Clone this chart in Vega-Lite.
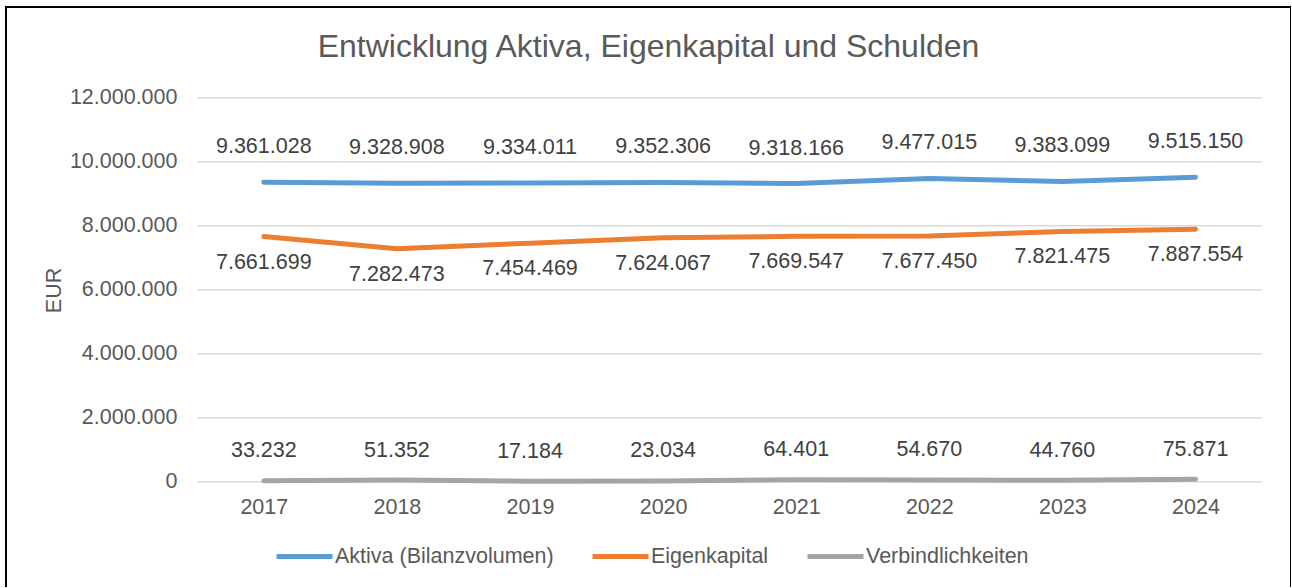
{
  "$schema": "https://vega.github.io/schema/vega-lite/v6.json",
  "width": 1285,
  "height": 584,
  "autosize": {"type": "none"},
  "padding": {"left": 6, "top": 7, "right": 0, "bottom": -4},
  "background": "white",
  "config": {
    "font": "Liberation Sans",
    "view": {"stroke": "#000000", "strokeWidth": 2},
    "locale": {"number": {"decimal": ",", "thousands": ".", "grouping": [3], "currency": ["", " €"]}}
  },
  "title": {
    "text": "Entwicklung Aktiva, Eigenkapital und Schulden",
    "fontSize": 32,
    "fontWeight": "normal",
    "color": "#595959",
    "anchor": "middle",
    "frame": "group",
    "baseline": "alphabetic",
    "offset": -81.6
  },
  "datasets": {
    "werte": [
      {"Jahr": 2017, "Reihe": "Aktiva (Bilanzvolumen)", "Wert": 9361028},
      {"Jahr": 2018, "Reihe": "Aktiva (Bilanzvolumen)", "Wert": 9328908},
      {"Jahr": 2019, "Reihe": "Aktiva (Bilanzvolumen)", "Wert": 9334011},
      {"Jahr": 2020, "Reihe": "Aktiva (Bilanzvolumen)", "Wert": 9352306},
      {"Jahr": 2021, "Reihe": "Aktiva (Bilanzvolumen)", "Wert": 9318166},
      {"Jahr": 2022, "Reihe": "Aktiva (Bilanzvolumen)", "Wert": 9477015},
      {"Jahr": 2023, "Reihe": "Aktiva (Bilanzvolumen)", "Wert": 9383099},
      {"Jahr": 2024, "Reihe": "Aktiva (Bilanzvolumen)", "Wert": 9515150},
      {"Jahr": 2017, "Reihe": "Eigenkapital", "Wert": 7661699},
      {"Jahr": 2018, "Reihe": "Eigenkapital", "Wert": 7282473},
      {"Jahr": 2019, "Reihe": "Eigenkapital", "Wert": 7454469},
      {"Jahr": 2020, "Reihe": "Eigenkapital", "Wert": 7624067},
      {"Jahr": 2021, "Reihe": "Eigenkapital", "Wert": 7669547},
      {"Jahr": 2022, "Reihe": "Eigenkapital", "Wert": 7677450},
      {"Jahr": 2023, "Reihe": "Eigenkapital", "Wert": 7821475},
      {"Jahr": 2024, "Reihe": "Eigenkapital", "Wert": 7887554},
      {"Jahr": 2017, "Reihe": "Verbindlichkeiten", "Wert": 33232},
      {"Jahr": 2018, "Reihe": "Verbindlichkeiten", "Wert": 51352},
      {"Jahr": 2019, "Reihe": "Verbindlichkeiten", "Wert": 17184},
      {"Jahr": 2020, "Reihe": "Verbindlichkeiten", "Wert": 23034},
      {"Jahr": 2021, "Reihe": "Verbindlichkeiten", "Wert": 64401},
      {"Jahr": 2022, "Reihe": "Verbindlichkeiten", "Wert": 54670},
      {"Jahr": 2023, "Reihe": "Verbindlichkeiten", "Wert": 44760},
      {"Jahr": 2024, "Reihe": "Verbindlichkeiten", "Wert": 75871}
    ],
    "gitter": [
      {"Gitter": 0}, {"Gitter": 2000000}, {"Gitter": 4000000}, {"Gitter": 6000000},
      {"Gitter": 8000000}, {"Gitter": 10000000}, {"Gitter": 12000000}
    ]
  },
  "layer": [
    {
      "data": {"name": "gitter"},
      "mark": {"type": "rule", "color": "#D9D9D9", "strokeWidth": 1.5},
      "encoding": {
        "x": {"datum": 2016.5, "type": "quantitative", "scale": {"domain": [2015.063, 2024.7175], "nice": false, "zero": false}},
        "x2": {"datum": 2024.5},
        "y": {"field": "Gitter", "type": "quantitative", "scale": {"domain": [-3415625, 14834375], "nice": false, "zero": false}}
      }
    },
    {
      "data": {"name": "werte"},
      "mark": {"type": "line", "strokeWidth": 5, "strokeCap": "round", "strokeJoin": "round"},
      "encoding": {
        "x": {
          "field": "Jahr", "type": "quantitative",
          "scale": {"domain": [2015.063, 2024.7175], "nice": false, "zero": false},
          "axis": {
            "orient": "bottom", "offset": -109.3, "values": [2017, 2018, 2019, 2020, 2021, 2022, 2023, 2024],
            "format": "d", "domain": false, "ticks": false, "tickSize": 0, "grid": false,
            "labelPadding": 31.6, "labelBaseline": "alphabetic", "labelFontSize": 21.5, "labelColor": "#595959",
            "labelFlush": false, "labelOverlap": false, "title": null
          }
        },
        "y": {
          "field": "Wert", "type": "quantitative",
          "scale": {"domain": [-3415625, 14834375], "nice": false, "zero": false},
          "axis": {
            "orient": "left", "offset": -171, "values": [0, 2000000, 4000000, 6000000, 8000000, 10000000, 12000000],
            "format": ",d", "domain": false, "ticks": false, "tickSize": 0, "grid": false,
            "labelPadding": 0, "labelFontSize": 21.5, "labelColor": "#595959",
            "labelFlush": false, "labelOverlap": false,
            "title": "EUR", "titleFontSize": 21.5, "titleFontWeight": "normal", "titleColor": "#595959",
            "titleX": -117, "titleY": 283, "titleAngle": -90, "titleBaseline": "alphabetic", "titleAlign": "center"
          }
        },
        "color": {
          "field": "Reihe", "type": "nominal",
          "scale": {"domain": ["Aktiva (Bilanzvolumen)", "Eigenkapital", "Verbindlichkeiten"], "range": ["#5B9BD5", "#ED7D31", "#A5A5A5"]},
          "legend": {
            "orient": "none", "legendX": 268, "legendY": 519, "direction": "horizontal", "columns": 3,
            "title": null, "symbolType": "stroke", "symbolSize": 3136, "symbolStrokeWidth": 5,
            "labelFontSize": 21.5, "labelColor": "#595959", "labelOffset": 0, "columnPadding": 28,
            "padding": 0, "labelLimit": 400
          }
        }
      }
    },
    {
      "data": {"name": "werte"},
      "transform": [{"filter": "datum.Reihe === 'Aktiva (Bilanzvolumen)'"}],
      "mark": {"type": "text", "fontSize": 21.5, "color": "#404040", "baseline": "alphabetic", "align": "center", "dy": -29},
      "encoding": {
        "x": {"field": "Jahr", "type": "quantitative", "scale": {"domain": [2015.063, 2024.7175], "nice": false, "zero": false}},
        "y": {"field": "Wert", "type": "quantitative", "scale": {"domain": [-3415625, 14834375], "nice": false, "zero": false}},
        "text": {"field": "Wert", "type": "quantitative", "format": ",d"}
      }
    },
    {
      "data": {"name": "werte"},
      "transform": [{"filter": "datum.Reihe === 'Eigenkapital'"}],
      "mark": {"type": "text", "fontSize": 21.5, "color": "#404040", "baseline": "alphabetic", "align": "center", "dy": 32},
      "encoding": {
        "x": {"field": "Jahr", "type": "quantitative", "scale": {"domain": [2015.063, 2024.7175], "nice": false, "zero": false}},
        "y": {"field": "Wert", "type": "quantitative", "scale": {"domain": [-3415625, 14834375], "nice": false, "zero": false}},
        "text": {"field": "Wert", "type": "quantitative", "format": ",d"}
      }
    },
    {
      "data": {"name": "werte"},
      "transform": [{"filter": "datum.Reihe === 'Verbindlichkeiten'"}],
      "mark": {"type": "text", "fontSize": 21.5, "color": "#404040", "baseline": "alphabetic", "align": "center", "dy": -23.5},
      "encoding": {
        "x": {"field": "Jahr", "type": "quantitative", "scale": {"domain": [2015.063, 2024.7175], "nice": false, "zero": false}},
        "y": {"field": "Wert", "type": "quantitative", "scale": {"domain": [-3415625, 14834375], "nice": false, "zero": false}},
        "text": {"field": "Wert", "type": "quantitative", "format": ",d"}
      }
    }
  ]
}
